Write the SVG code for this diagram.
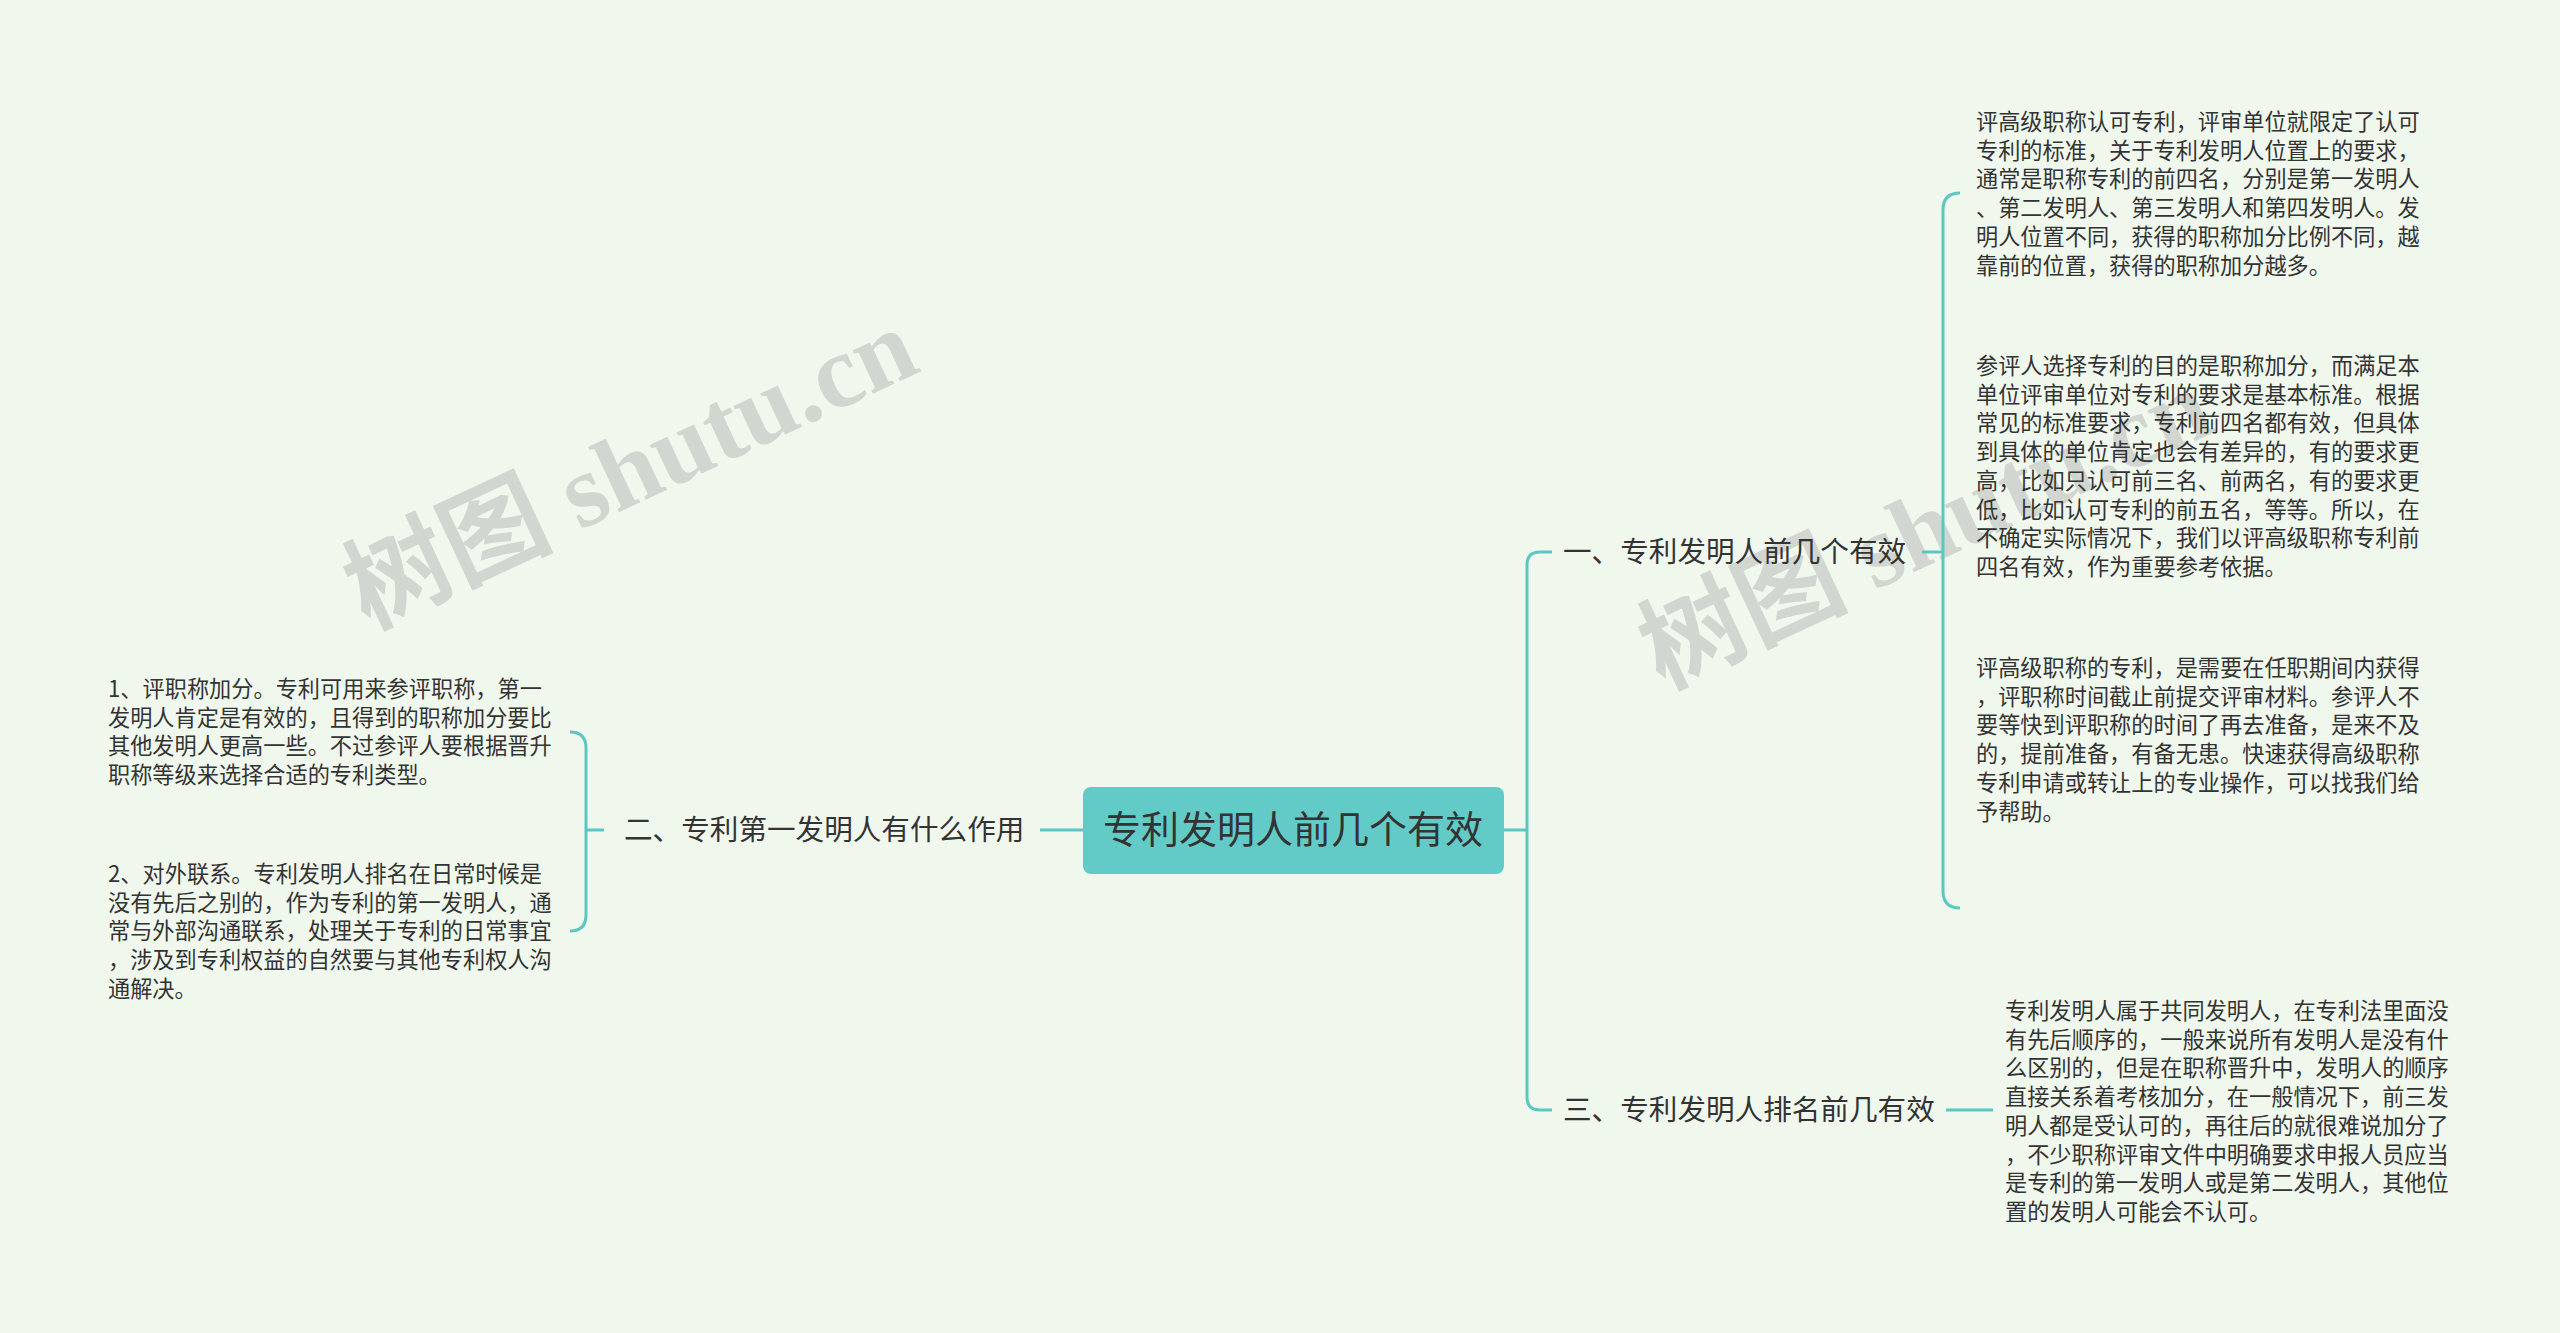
<svg xmlns="http://www.w3.org/2000/svg" width="2560" height="1333" viewBox="0 0 2560 1333">
<style>
text{font-family:"Noto Sans CJK SC","Noto Sans",sans-serif;fill:#333}
.leaf{font-size:22.2px}
.br{font-size:28.6px}
.c{fill:none;stroke:#5cc6c2;stroke-width:3}
.wm{font-size:104px;fill:#999;opacity:0.35;font-family:"Liberation Serif","Noto Sans CJK SC",serif;font-weight:bold}
</style>
<rect width="2560" height="1333" fill="#f0f8ee"/>
<text class="wm" transform="translate(645,500) rotate(-25)" text-anchor="middle">树图 shutu.cn</text>
<text class="wm" transform="translate(1940,560) rotate(-25)" text-anchor="middle">树图 shutu.cn</text>
<g id="connectors">
<path class="c" d="M1504,830 H1527 M1552,552 H1540 Q1527,552 1527,565 V1097 Q1527,1110 1540,1110 H1552"/>
<path class="c" d="M1922,552 H1943 M1960,193 Q1943,193 1943,210 V891 Q1943,908 1960,908"/>
<path class="c" d="M1946,1110 H1993"/>
<path class="c" d="M1083,830 H1040"/>
<path class="c" d="M604,830 H586 M570,732 Q586,732 586,748 V915 Q586,931 570,931"/>
</g>
<g id="center">
<rect x="1083" y="787" width="421" height="87" rx="8" fill="#62cbc7"/>
<text x="1293" y="843" text-anchor="middle" font-size="38">专利发明人前几个有效</text>
</g>
<g id="b1"><text class="br" x="1563" y="562">一、专利发明人前几个有效</text></g>
<g id="b3"><text class="br" x="1563" y="1120">三、专利发明人排名前几有效</text></g>
<g id="b2"><text class="br" x="624" y="840">二、专利第一发明人有什么作用</text></g>
<g id="leaf1"><text class="leaf" x="1976" y="130">
<tspan x="1976" dy="0">评高级职称认可专利，评审单位就限定了认可</tspan>
<tspan x="1976" dy="28.7">专利的标准，关于专利发明人位置上的要求，</tspan>
<tspan x="1976" dy="28.7">通常是职称专利的前四名，分别是第一发明人</tspan>
<tspan x="1976" dy="28.7">、第二发明人、第三发明人和第四发明人。发</tspan>
<tspan x="1976" dy="28.7">明人位置不同，获得的职称加分比例不同，越</tspan>
<tspan x="1976" dy="28.7">靠前的位置，获得的职称加分越多。</tspan></text></g>
<g id="leaf2"><text class="leaf" x="1976" y="374">
<tspan x="1976" dy="0">参评人选择专利的目的是职称加分，而满足本</tspan>
<tspan x="1976" dy="28.7">单位评审单位对专利的要求是基本标准。根据</tspan>
<tspan x="1976" dy="28.7">常见的标准要求，专利前四名都有效，但具体</tspan>
<tspan x="1976" dy="28.7">到具体的单位肯定也会有差异的，有的要求更</tspan>
<tspan x="1976" dy="28.7">高，比如只认可前三名、前两名，有的要求更</tspan>
<tspan x="1976" dy="28.7">低，比如认可专利的前五名，等等。所以，在</tspan>
<tspan x="1976" dy="28.7">不确定实际情况下，我们以评高级职称专利前</tspan>
<tspan x="1976" dy="28.7">四名有效，作为重要参考依据。</tspan></text></g>
<g id="leaf3"><text class="leaf" x="1976" y="676">
<tspan x="1976" dy="0">评高级职称的专利，是需要在任职期间内获得</tspan>
<tspan x="1976" dy="28.7">，评职称时间截止前提交评审材料。参评人不</tspan>
<tspan x="1976" dy="28.7">要等快到评职称的时间了再去准备，是来不及</tspan>
<tspan x="1976" dy="28.7">的，提前准备，有备无患。快速获得高级职称</tspan>
<tspan x="1976" dy="28.7">专利申请或转让上的专业操作，可以找我们给</tspan>
<tspan x="1976" dy="28.7">予帮助。</tspan></text></g>
<g id="leaf4"><text class="leaf" x="2005" y="1019">
<tspan x="2005" dy="0">专利发明人属于共同发明人，在专利法里面没</tspan>
<tspan x="2005" dy="28.7">有先后顺序的，一般来说所有发明人是没有什</tspan>
<tspan x="2005" dy="28.7">么区别的，但是在职称晋升中，发明人的顺序</tspan>
<tspan x="2005" dy="28.7">直接关系着考核加分，在一般情况下，前三发</tspan>
<tspan x="2005" dy="28.7">明人都是受认可的，再往后的就很难说加分了</tspan>
<tspan x="2005" dy="28.7">，不少职称评审文件中明确要求申报人员应当</tspan>
<tspan x="2005" dy="28.7">是专利的第一发明人或是第二发明人，其他位</tspan>
<tspan x="2005" dy="28.7">置的发明人可能会不认可。</tspan></text></g>
<g id="leafA"><text class="leaf" x="108" y="697">
<tspan x="108" dy="0">1、评职称加分。专利可用来参评职称，第一</tspan>
<tspan x="108" dy="28.7">发明人肯定是有效的，且得到的职称加分要比</tspan>
<tspan x="108" dy="28.7">其他发明人更高一些。不过参评人要根据晋升</tspan>
<tspan x="108" dy="28.7">职称等级来选择合适的专利类型。</tspan></text></g>
<g id="leafB"><text class="leaf" x="108" y="882">
<tspan x="108" dy="0">2、对外联系。专利发明人排名在日常时候是</tspan>
<tspan x="108" dy="28.7">没有先后之别的，作为专利的第一发明人，通</tspan>
<tspan x="108" dy="28.7">常与外部沟通联系，处理关于专利的日常事宜</tspan>
<tspan x="108" dy="28.7">，涉及到专利权益的自然要与其他专利权人沟</tspan>
<tspan x="108" dy="28.7">通解决。</tspan></text></g>
</svg>
